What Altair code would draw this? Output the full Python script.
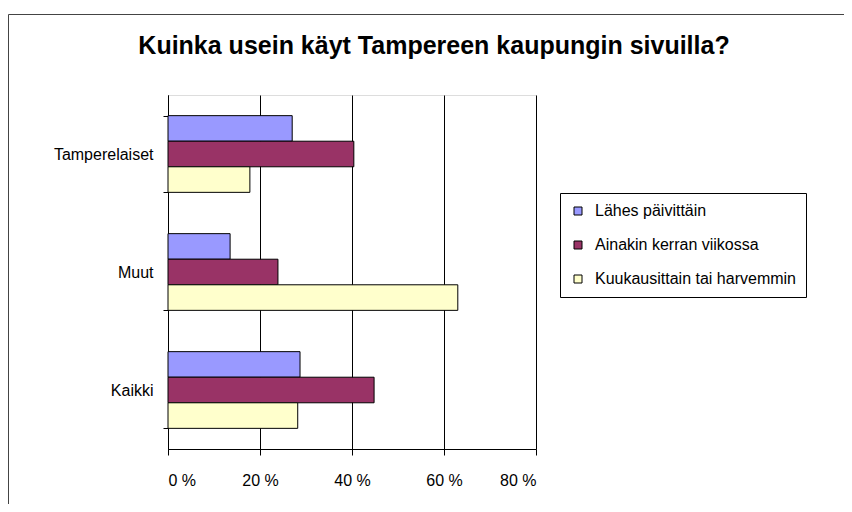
import altair as alt
import pandas as pd

title_text = "Kuinka usein käyt Tampereen kaupungin sivuilla?"
categories = ["Tamperelaiset", "Muut", "Kaikki"]
series = ["Lähes päivittäin", "Ainakin kerran viikossa", "Kuukausittain tai harvemmin"]
colors = ["#9999FF", "#993366", "#FFFFCC"]
lahes = [27.0, 13.5, 28.7]
ainakin = [40.4, 23.9, 44.8]
kuukausittain = [17.8, 63.0, 28.2]
x_ticks = [0, 20, 40, 60, 80]

rows = []
for i, c in enumerate(categories):
    for s, vals in zip(series, [lahes, ainakin, kuukausittain]):
        rows.append({"cat": c, "series": s, "value": vals[i]})
df = pd.DataFrame(rows)

FONT = "Liberation Sans"

bars = alt.Chart(df).mark_bar(stroke="black", strokeWidth=1).encode(
    y=alt.Y("cat:N", sort=categories,
            scale=alt.Scale(paddingInner=0.35, paddingOuter=0.175),
            axis=alt.Axis(title=None, tickBand="extent", tickSize=5, tickColor="black",
                          domainColor="black", labelPadding=10, labelFontSize=16,
                          labelColor="black", grid=False, labelFont=FONT)),
    yOffset=alt.YOffset("series:N", sort=series,
                        scale=alt.Scale(paddingInner=0, paddingOuter=0)),
    x=alt.X("value:Q", scale=alt.Scale(domain=[0, 80], nice=False),
            axis=alt.Axis(title=None, values=x_ticks, labelExpr="datum.value + ' %'",
                          grid=True, gridColor="black", gridOpacity=1, tickSize=6,
                          tickColor="black", domainColor="black", labelPadding=17,
                          labelFontSize=16, labelColor="black", labelFont=FONT)),
    color=alt.Color("series:N", sort=series,
                    scale=alt.Scale(domain=series, range=colors),
                    legend=alt.Legend(title=None, orient="none", legendX=392, legendY=98,
                                      strokeColor="black", fillColor="white", padding=10,
                                      symbolType="square", symbolSize=64,
                                      symbolStrokeColor="black", symbolStrokeWidth=1,
                                      labelFontSize=16, labelFont=FONT, labelColor="black",
                                      rowPadding=18, labelOffset=9, labelLimit=400)),
)

frame_df = pd.DataFrame({"f": [0]})
frame_top = alt.Chart(frame_df).mark_rule(color="#444444", strokeWidth=1).encode(
    x=alt.value(-159.5), x2=alt.value(700), y=alt.value(-80.5))
frame_left = alt.Chart(frame_df).mark_rule(color="#444444", strokeWidth=1).encode(
    x=alt.value(-159.5), y=alt.value(-80.5), y2=alt.value(430))

chart = alt.layer(frame_top, frame_left, bars).properties(
    width=368, height=354,
    autosize="none",
    padding={"left": 160, "top": 87, "right": 308, "bottom": 55},
    title=alt.TitleParams(title_text, anchor="middle", frame="group", dx=82,
                          offset=-65, baseline="alphabetic", fontSize=25,
                          fontWeight="bold", font=FONT, color="black"),
).configure_view(stroke="black", strokeWidth=1).configure(background="white")

chart.save("out.html", embed_options={"renderer": "svg", "actions": False})
